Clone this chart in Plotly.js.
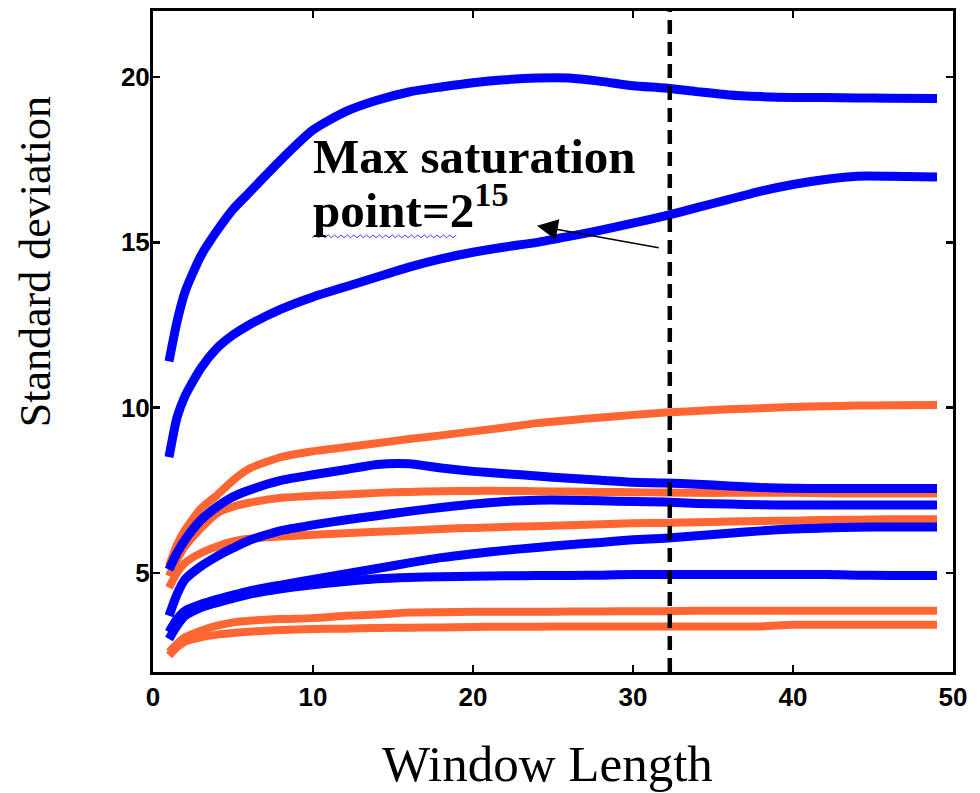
<!DOCTYPE html>
<html>
<head>
<meta charset="utf-8">
<script src="https://cdn.plot.ly/plotly-3.0.1.min.js"></script>
<style>html,body{margin:0;padding:0;background:#fff;}#chart{width:980px;height:793px;}</style>
</head>
<body>
<div id="chart"></div>
<script>
// Window length grid (x values shared by all curves)
const windowLength = [1, 1.5, 2, 3, 4, 5, 6, 8, 10, 12, 14, 16, 18, 20, 22, 24, 26, 28, 30, 32, 34, 36, 38, 40, 42, 44, 46, 49];

// Blue curves (top to bottom at right edge)
const blue1 = [11.4, 12.6, 13.5, 14.6, 15.35, 16.0, 16.5, 17.5, 18.4, 18.95, 19.3, 19.55, 19.7, 19.83, 19.92, 19.97, 19.97, 19.87, 19.74, 19.67, 19.56, 19.46, 19.41, 19.38, 19.38, 19.37, 19.36, 19.35];
const blue2 = [8.5, 9.7, 10.35, 11.2, 11.8, 12.2, 12.5, 12.98, 13.35, 13.65, 13.95, 14.25, 14.5, 14.7, 14.86, 15.0, 15.18, 15.37, 15.58, 15.8, 16.05, 16.3, 16.55, 16.75, 16.9, 17.0, 17.0, 16.98];
const blue3 = [5.1, 5.6, 6.0, 6.6, 7.0, 7.3, 7.5, 7.8, 7.97, 8.12, 8.28, 8.3, 8.17, 8.07, 8.0, 7.93, 7.86, 7.8, 7.74, 7.72, 7.68, 7.63, 7.58, 7.56, 7.55, 7.55, 7.55, 7.55];
const blue4 = [3.7, 4.35, 4.8, 5.2, 5.5, 5.75, 5.98, 6.28, 6.45, 6.6, 6.73, 6.86, 6.98, 7.08, 7.16, 7.2, 7.2, 7.18, 7.16, 7.14, 7.1, 7.08, 7.06, 7.05, 7.05, 7.05, 7.05, 7.05];
const blue5 = [3.2, 3.6, 3.85, 4.05, 4.2, 4.33, 4.45, 4.63, 4.8, 4.97, 5.13, 5.3, 5.46, 5.58, 5.68, 5.77, 5.85, 5.92, 6.0, 6.05, 6.12, 6.2, 6.27, 6.33, 6.36, 6.38, 6.39, 6.39];
const blue6 = [3.0, 3.4, 3.7, 3.95, 4.1, 4.23, 4.35, 4.52, 4.64, 4.74, 4.82, 4.86, 4.88, 4.9, 4.91, 4.92, 4.92, 4.93, 4.95, 4.95, 4.95, 4.95, 4.95, 4.95, 4.95, 4.93, 4.92, 4.92];

// Orange curves (top to bottom at right edge)
const orange1 = [5.2, 5.85, 6.3, 6.95, 7.35, 7.8, 8.15, 8.5, 8.68, 8.8, 8.92, 9.05, 9.16, 9.28, 9.4, 9.53, 9.62, 9.7, 9.78, 9.85, 9.9, 9.95, 9.98, 10.02, 10.04, 10.06, 10.07, 10.08];
const orange2 = [4.9, 5.4, 5.8, 6.35, 6.8, 7.0, 7.12, 7.27, 7.33, 7.37, 7.42, 7.45, 7.47, 7.48, 7.48, 7.47, 7.46, 7.45, 7.44, 7.43, 7.42, 7.42, 7.42, 7.42, 7.41, 7.4, 7.4, 7.4];
const orange3 = [4.55, 5.0, 5.3, 5.6, 5.8, 5.95, 6.03, 6.1, 6.15, 6.2, 6.24, 6.28, 6.33, 6.36, 6.39, 6.41, 6.44, 6.47, 6.5, 6.51, 6.53, 6.55, 6.57, 6.58, 6.6, 6.61, 6.62, 6.62];
const orange4 = [2.6, 2.85, 3.05, 3.25, 3.4, 3.5, 3.55, 3.6, 3.63, 3.7, 3.74, 3.8, 3.81, 3.82, 3.82, 3.82, 3.83, 3.83, 3.84, 3.84, 3.85, 3.85, 3.85, 3.85, 3.85, 3.85, 3.85, 3.85];
const orange5 = [2.5, 2.75, 2.92, 3.05, 3.13, 3.18, 3.22, 3.27, 3.3, 3.31, 3.33, 3.34, 3.35, 3.36, 3.37, 3.37, 3.38, 3.38, 3.38, 3.38, 3.38, 3.38, 3.38, 3.43, 3.43, 3.43, 3.43, 3.43];

// Axis ticks
const xTicks = [0, 10, 20, 30, 40, 50];
const yTicks = [5, 10, 15, 20];

// Saturation marker
const saturationX = 32.3;
const arrowTip = [24.0, 15.5];
const arrowTail = [31.7, 14.83];

const BLUE = '#0000FF';
const ORANGE = '#FF6633';

const orangeSeries = [orange1, orange2, orange3, orange4, orange5];
const blueSeries = [blue1, blue2, blue3, blue4, blue5, blue6];

const traces = [];
orangeSeries.forEach(function (ys, i) {
  traces.push({x: windowLength, y: ys, type: 'scatter', mode: 'lines',
    line: {color: ORANGE, width: 8, shape: 'spline', smoothing: 0.6},
    name: 'orange ' + (i + 1), showlegend: false, hoverinfo: 'skip'});
});
blueSeries.forEach(function (ys, i) {
  traces.push({x: windowLength, y: ys, type: 'scatter', mode: 'lines',
    line: {color: BLUE, width: 9, shape: 'spline', smoothing: 0.6},
    name: 'blue ' + (i + 1), showlegend: false, hoverinfo: 'skip'});
});

// wavy spell-check style underline under "point=2" (decoration, paper coords)
function wavyPath(x0, x1, y, amp, period) {
  let d = 'M' + x0 + ',' + y;
  let k = 0;
  for (let x = x0 + period / 2; x <= x1 + 1e-9; x += period / 2) {
    k++;
    d += ' L' + x.toFixed(5) + ',' + (y + (k % 2 ? amp : 0)).toFixed(5);
  }
  return d;
}

const tickFont = {family: 'Liberation Sans, Arial, sans-serif', size: 26, color: '#000', weight: 'bold'};
const serif = 'Liberation Serif, Times New Roman, serif';

const layout = {
  width: 980, height: 793,
  margin: {l: 153, r: 27, t: 11, b: 121},
  paper_bgcolor: '#fff', plot_bgcolor: '#fff',
  showlegend: false,
  xaxis: {
    range: [0, 50], tickvals: xTicks, ticktext: xTicks.map(String),
    ticks: 'inside', ticklen: 7, tickwidth: 2.5, tickcolor: '#000',
    showline: true, linewidth: 3, linecolor: '#000', mirror: 'ticks',
    showgrid: false, zeroline: false, tickfont: tickFont
  },
  yaxis: {
    range: [2, 22], tickvals: yTicks, ticktext: yTicks.map(String),
    ticks: 'inside', ticklen: 7, tickwidth: 2.5, tickcolor: '#000',
    showline: true, linewidth: 3, linecolor: '#000', mirror: 'ticks',
    showgrid: false, zeroline: false, tickfont: tickFont, ticklabelstandoff: -5
  },
  shapes: [
    {type: 'line', xref: 'x', yref: 'paper', x0: saturationX, x1: saturationX, y0: 0, y1: 1,
     line: {color: '#000', width: 4.5, dash: '14px,8px'}},
    {type: 'path', xref: 'paper', yref: 'paper', path: wavyPath(0.199, 0.38, 0.657, 0.004, 0.008),
     line: {color: '#3040ff', width: 1}}
  ],
  annotations: [
    {text: 'Window Length', xref: 'paper', yref: 'paper', x: 0.4925, y: -0.139,
     xanchor: 'center', yanchor: 'middle', showarrow: false,
     font: {family: serif, size: 51, color: '#000'}},
    {text: 'Standard deviation', xref: 'paper', yref: 'paper', x: -0.1475, y: 0.62,
     xanchor: 'center', yanchor: 'middle', showarrow: false, textangle: -90,
     font: {family: serif, size: 44, color: '#000'}},
    {text: '<b>Max saturation</b>', xref: 'x', yref: 'y', x: 9.85, y: 16.70,
     xanchor: 'left', yanchor: 'bottom', align: 'left', showarrow: false,
     font: {family: serif, size: 49, color: '#000'}},
    {text: '<b>point=2<sup>15</sup></b>', xref: 'x', yref: 'y', x: 9.85, y: 15.07,
     xanchor: 'left', yanchor: 'bottom', align: 'left', showarrow: false,
     font: {family: serif, size: 49, color: '#000'}},
    {text: '', xref: 'x', yref: 'y', axref: 'x', ayref: 'y',
     x: arrowTip[0], y: arrowTip[1], ax: arrowTail[0], ay: arrowTail[1],
     showarrow: true, arrowhead: 2, arrowsize: 2.6, arrowwidth: 1.6, arrowcolor: '#000', standoff: 0}
  ]
};

Plotly.newPlot('chart', traces, layout, {displayModeBar: false, staticPlot: true});
</script>
</body>
</html>
